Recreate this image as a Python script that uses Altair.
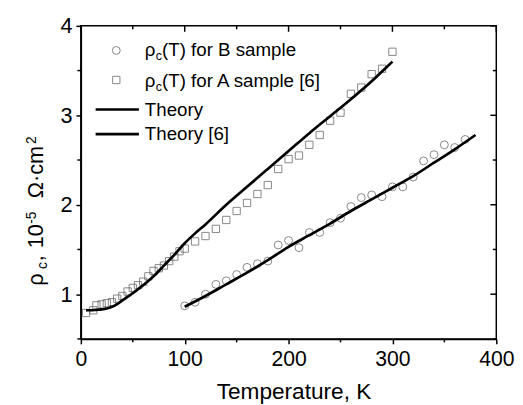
import altair as alt
import pandas as pd

# ---- data ----
b_T = [100, 110, 120, 130, 140, 150, 160, 170, 180, 190, 200, 210, 220, 230,
       240, 250, 260, 270, 280, 290, 300, 310, 320, 330, 340, 350, 360, 370]
b_rho = [0.87, 0.91, 1.00, 1.11, 1.15, 1.22, 1.30, 1.34, 1.37, 1.55, 1.60, 1.52, 1.69, 1.69,
         1.80, 1.85, 1.98, 2.08, 2.11, 2.09, 2.20, 2.20, 2.31, 2.49, 2.56, 2.67, 2.64, 2.73]

a_T = [5, 12, 15, 20, 25, 30, 35, 40, 45, 50, 55, 60, 65, 70, 75, 80, 85, 90, 95, 100,
       110, 120, 130, 140, 150, 160, 170, 180, 190, 200, 210, 220, 230, 240, 250, 260,
       270, 280, 290, 300]
a_rho = [0.79, 0.82, 0.875, 0.886, 0.90, 0.91, 0.95, 0.98, 1.03, 1.07, 1.10, 1.14, 1.20,
         1.26, 1.29, 1.32, 1.37, 1.42, 1.48, 1.51, 1.59, 1.65, 1.73, 1.83, 1.93, 2.02,
         2.12, 2.22, 2.40, 2.51, 2.55, 2.67, 2.78, 2.94, 3.03, 3.24, 3.31, 3.46, 3.52, 3.71]

thA_T = [5, 10, 15, 20, 25, 30, 35, 40, 45, 50, 55, 60, 70, 80, 90, 100, 110, 120, 140,
         160, 180, 200, 220, 240, 260, 280, 290, 300]
thA_rho = [0.82, 0.82, 0.825, 0.83, 0.84, 0.86, 0.89, 0.93, 0.97, 1.01, 1.055, 1.10, 1.20,
           1.32, 1.44, 1.57, 1.68, 1.78, 2.00, 2.20, 2.40, 2.60, 2.80, 2.99, 3.18, 3.38,
           3.49, 3.60]

thB_T = [100, 120, 140, 160, 180, 200, 220, 240, 260, 280, 300, 320, 340, 360, 380]
thB_rho = [0.86, 0.98, 1.11, 1.24, 1.38, 1.53, 1.66, 1.79, 1.93, 2.06, 2.19, 2.32, 2.47,
           2.62, 2.78]

x_major = [0, 100, 200, 300, 400]
x_minor = [50, 150, 250, 350]
y_major = [1, 2, 3, 4]
y_minor = [0.5, 1.5, 2.5, 3.5]

legend_rows = ["(T) for B sample", "(T) for A sample [6]", "Theory", "Theory [6]"]
rho_sym = "ρ"
sub_c = "c"
x_title = "Temperature, K"
y_title_pieces = ["ρ", "c", ",", "10", "-5", "Ω·cm", "2"]

FONT = "Liberation Sans"
W, H = 422, 318

xs = alt.Scale(domain=[0, 400], nice=False)
ys = alt.Scale(domain=[0.5, 4], nice=False)

dfB = pd.DataFrame({"T": b_T, "rho": b_rho})
dfA = pd.DataFrame({"T": a_T, "rho": a_rho})
dfThA = pd.DataFrame({"T": thA_T, "rho": thA_rho})
dfThB = pd.DataFrame({"T": thB_T, "rho": thB_rho})

x_axis = alt.Axis(values=x_major, title=x_title, labelFontSize=21.5, titleFontSize=23,
                  titleFontWeight="normal", tickSize=5, labelPadding=5, titlePadding=11,
                  titleX=216, grid=False, domainColor="black", tickColor="black",
                  labelColor="black", titleColor="black", domainWidth=1.5, tickWidth=1.5,
                  labelFont=FONT, titleFont=FONT, labelFlush=False, format="d")
y_axis = alt.Axis(values=y_major, title=None, labelFontSize=22, tickSize=5, labelPadding=4,
                  grid=False, domainColor="black", tickColor="black", labelColor="black",
                  domainWidth=1.5, tickWidth=1.5, labelFont=FONT, labelFlush=False,
                  format="d")

ptsB = alt.Chart(dfB).mark_point(shape="circle", filled=False, size=64, strokeWidth=1,
                                 color="#555").encode(
    x=alt.X("T:Q", scale=xs, axis=x_axis), y=alt.Y("rho:Q", scale=ys, axis=y_axis))
ptsA = alt.Chart(dfA).mark_point(shape="square", filled=False, size=55, strokeWidth=1,
                                 color="#555").encode(
    x=alt.X("T:Q", scale=xs), y=alt.Y("rho:Q", scale=ys))
lineA = alt.Chart(dfThA).mark_line(color="black", strokeWidth=2.7, interpolate="monotone").encode(
    x=alt.X("T:Q", scale=xs), y=alt.Y("rho:Q", scale=ys))
lineB = alt.Chart(dfThB).mark_line(color="black", strokeWidth=2.7, interpolate="monotone").encode(
    x=alt.X("T:Q", scale=xs), y=alt.Y("rho:Q", scale=ys))


def vticks(vals, y0, y1):
    return alt.Chart(pd.DataFrame({"v": vals})).mark_rule(color="black", strokeWidth=1.5).encode(
        x=alt.X("v:Q", scale=xs), y=alt.value(y0), y2=alt.value(y1))


def hticks(vals, x0, x1):
    return alt.Chart(pd.DataFrame({"v": vals})).mark_rule(color="black", strokeWidth=1.5).encode(
        y=alt.Y("v:Q", scale=ys), x=alt.value(x0), x2=alt.value(x1))


ticks = [
    vticks(x_major, 0, 6), vticks(x_minor, 0, 3.5), vticks(x_minor, H, H + 3.5),
    hticks(y_major, W, W - 6), hticks(y_minor, W, W - 3.5), hticks(y_minor, -3.5, 0),
]


def txt(s, x, y, size, angle=0, align="left", baseline="alphabetic"):
    kw = dict(font=FONT, fontSize=size, color="black", align=align, baseline=baseline)
    if angle:
        kw["angle"] = angle
    return alt.Chart(pd.DataFrame({"s": [s]})).mark_text(**kw).encode(
        text="s:N", x=alt.value(x), y=alt.value(y))


LF = 19
leg = []
row_base = [31, 62, 92, 116]
for i in range(2):
    leg += [txt(rho_sym, 65, row_base[i], LF), txt(sub_c, 76, row_base[i] + 4, 12.5),
            txt(legend_rows[i], 82.5, row_base[i], LF)]
for i in range(2, 4):
    leg.append(txt(legend_rows[i], 65, row_base[i], LF))

leg_sym = [
    alt.Chart(pd.DataFrame({"s": [0]})).mark_point(shape="circle", filled=False, size=64,
        strokeWidth=1, color="#555").encode(x=alt.value(36), y=alt.value(25)),
    alt.Chart(pd.DataFrame({"s": [0]})).mark_point(shape="square", filled=False, size=55,
        strokeWidth=1, color="#555").encode(x=alt.value(36), y=alt.value(55)),
    alt.Chart(pd.DataFrame({"s": [0]})).mark_rule(color="black", strokeWidth=2.7).encode(
        x=alt.value(15), x2=alt.value(59), y=alt.value(85)),
    alt.Chart(pd.DataFrame({"s": [0]})).mark_rule(color="black", strokeWidth=2.7).encode(
        x=alt.value(15), x2=alt.value(59), y=alt.value(110)),
]

# rotated y-axis title built from pieces (subscript c, superscripts)
YB = -38          # baseline x (relative to plot left)
YF, YS = 22, 14   # main / small font sizes
ypos = [264, 247, 239, 226, 201, 175, 120]
xoff = [0, 4, 0, 0, -8, 0, -8]
ysize = [YF, YS, YF, YF, YS, YF, YS]
ytitle = [txt(p, YB + dx, py, fs, angle=270)
          for p, py, dx, fs in zip(y_title_pieces, ypos, xoff, ysize)]

chart = alt.layer(ptsB, ptsA, lineA, lineB, *ticks, *leg_sym, *leg, *ytitle).properties(
    width=W, height=H,
    autosize=alt.AutoSizeParams(type="none"),
    padding={"left": 74, "top": 15, "right": 19, "bottom": 64},
).configure_view(stroke="black", strokeWidth=1.5)

chart.save("out.html", embed_options={"renderer": "svg", "actions": False})
